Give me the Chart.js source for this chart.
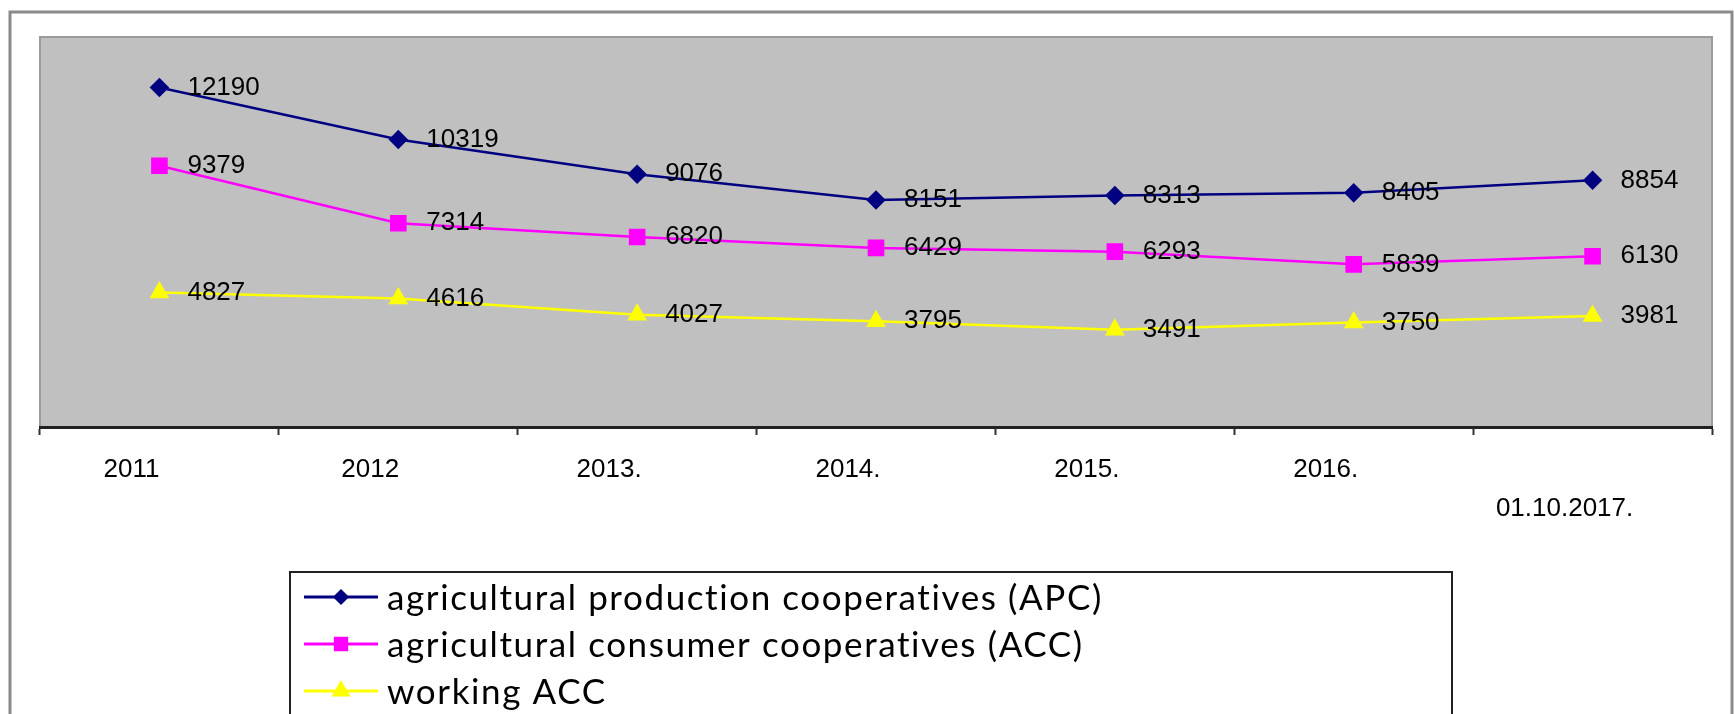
<!DOCTYPE html>
<html>
<head>
<meta charset="utf-8">
<title>Cooperatives</title>
<script src="https://cdn.jsdelivr.net/npm/chart.js@4.4.1/dist/chart.umd.min.js"></script>
<style>
    html, body { margin: 0; padding: 0; background: #ffffff; }
    #wrap { width: 1734px; height: 714px; position: relative; }
</style>
</head>
<body>
<div id="wrap"><canvas id="coopChart"></canvas></div>
<script>
// Data
const categories = ['2011', '2012', '2013.', '2014.', '2015.', '2016.', '01.10.2017.'];
const apcValues = [12190, 10319, 9076, 8151, 8313, 8405, 8854];
const accValues = [9379, 7314, 6820, 6429, 6293, 5839, 6130];
const workingAccValues = [4827, 4616, 4027, 3795, 3491, 3750, 3981];
const seriesNames = [
    'agricultural production cooperatives (APC)',
    'agricultural consumer cooperatives (ACC)',
    'working ACC'
];

// Outer frame + grey plot area
const backdrop = {
    id: 'backdrop',
    beforeDraw(chart) {
        const { ctx, chartArea: a } = chart;
        ctx.save();
        ctx.fillStyle = '#ffffff';
        ctx.fillRect(0, 0, chart.width, chart.height);
        ctx.strokeStyle = '#8a8a8a';
        ctx.lineWidth = 3;
        ctx.strokeRect(10, 12, 1722, 720);
        ctx.fillStyle = '#c0c0c0';
        ctx.fillRect(a.left, a.top, a.right - a.left, a.bottom - a.top);
        ctx.strokeStyle = '#9a9a9a';
        ctx.lineWidth = 2;
        ctx.strokeRect(a.left, a.top, a.right - a.left, a.bottom - a.top);
        ctx.restore();
    }
};

// Value next to every point
const valueLabels = {
    id: 'valueLabels',
    afterDatasetsDraw(chart) {
        const ctx = chart.ctx;
        ctx.save();
        ctx.font = '26px "Liberation Sans", Arial, sans-serif';
        ctx.fillStyle = '#000000';
        ctx.textBaseline = 'middle';
        ctx.textAlign = 'left';
        chart.data.datasets.forEach((ds, i) => {
            chart.getDatasetMeta(i).data.forEach((pt, j) => {
                ctx.fillText(String(ds.data[j]), pt.x + 28, pt.y);
            });
        });
        ctx.restore();
    }
};

// Boxed legend below the axis, one series per row
const boxLegend = {
    id: 'boxLegend',
    afterDraw(chart) {
        const ctx = chart.ctx;
        const boxLeft = 290, boxTop = 572, boxWidth = 1162;
        ctx.save();
        ctx.strokeStyle = '#222222';
        ctx.lineWidth = 2;
        ctx.strokeRect(boxLeft, boxTop, boxWidth, 200);
        ctx.font = '35px Lato, "Open Sans", sans-serif';
        ctx.letterSpacing = '1.6px';
        ctx.textBaseline = 'middle';
        ctx.fillStyle = '#000000';
        chart.data.datasets.forEach((ds, i) => {
            const y = 597 + i * 47;
            ctx.strokeStyle = ds.borderColor;
            ctx.lineWidth = 3;
            ctx.beginPath();
            ctx.moveTo(304, y);
            ctx.lineTo(378, y);
            ctx.stroke();
            ctx.fillStyle = ds.pointBackgroundColor;
            ctx.strokeStyle = ds.pointBackgroundColor;
            Chart.helpers.drawPoint(ctx, {
                pointStyle: ds.pointStyle,
                radius: ds.legendRadius,
                borderWidth: 1,
                rotation: 0
            }, 341, y);
            ctx.fillStyle = '#000000';
            ctx.fillText(ds.label, 387, y + 2);
        });
        ctx.restore();
    }
};

new Chart(document.getElementById('coopChart'), {
    type: 'line',
    data: {
        labels: categories,
        datasets: [{
            label: seriesNames[0],
            data: apcValues,
            borderColor: '#000080',
            backgroundColor: '#000080',
            pointBackgroundColor: '#000080',
            pointBorderColor: '#000080',
            borderWidth: 2.5,
            pointStyle: 'rectRot',
            pointRadius: 8,
            legendRadius: 6,
            tension: 0
        }, {
            label: seriesNames[1],
            data: accValues,
            borderColor: '#ff00ff',
            backgroundColor: '#ff00ff',
            pointBackgroundColor: '#ff00ff',
            pointBorderColor: '#ff00ff',
            borderWidth: 2.5,
            pointStyle: 'rect',
            pointRadius: 10,
            legendRadius: 8,
            tension: 0
        }, {
            label: seriesNames[2],
            data: workingAccValues,
            borderColor: '#ffff00',
            backgroundColor: '#ffff00',
            pointBackgroundColor: '#ffff00',
            pointBorderColor: '#ffff00',
            borderWidth: 2.5,
            pointStyle: 'triangle',
            pointRadius: 9,
            legendRadius: 8,
            tension: 0
        }]
    },
    options: {
        responsive: true,
        maintainAspectRatio: false,
        animation: false,
        layout: {
            padding: { left: 40, right: 22, top: 37, bottom: 187 }
        },
        plugins: {
            legend: { display: false },
            tooltip: { enabled: false }
        },
        scales: {
            x: {
                offset: true,
                afterFit: function (scale) {
                    scale.height = 100;
                },
                grid: {
                    offset: true,
                    drawOnChartArea: false,
                    drawTicks: true,
                    tickLength: 8,
                    tickColor: '#333333',
                    tickWidth: 2
                },
                border: {
                    display: true,
                    color: '#222222',
                    width: 3
                },
                ticks: {
                    color: '#000000',
                    padding: 15,
                    labelOffset: -28,
                    maxRotation: 0,
                    autoSkip: false,
                    font: {
                        family: '"Liberation Sans", Arial, sans-serif',
                        size: 26,
                        lineHeight: 1.5
                    },
                    callback: function (value, index) {
                        const label = categories[index];
                        return index === categories.length - 1 ? ['', label] : label;
                    }
                }
            },
            y: {
                display: false,
                min: 0,
                max: 14000
            }
        }
    },
    plugins: [backdrop, valueLabels, boxLegend]
});
</script>
</body>
</html>
